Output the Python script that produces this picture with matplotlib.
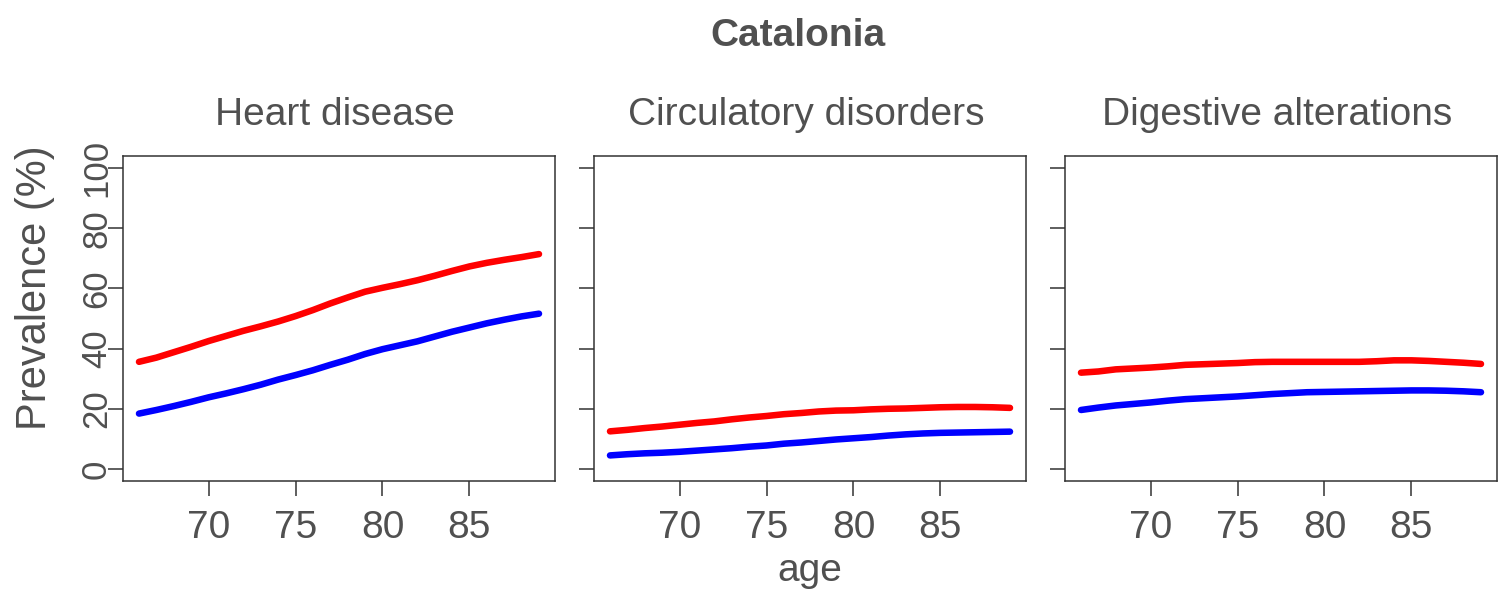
import matplotlib
matplotlib.use("Agg")
import matplotlib.pyplot as plt

ages = list(range(66, 90))

heart_red = [35.6, 37.0, 38.8, 40.6, 42.5, 44.2, 45.9, 47.4, 49.0, 50.8, 52.8, 55.0,
             57.0, 58.9, 60.2, 61.4, 62.7, 64.2, 65.8, 67.3, 68.5, 69.5, 70.4, 71.4]
heart_blue = [18.4, 19.6, 20.9, 22.3, 23.8, 25.1, 26.5, 28.0, 29.7, 31.2, 32.8, 34.6,
              36.3, 38.2, 39.8, 41.1, 42.4, 44.0, 45.6, 47.0, 48.4, 49.6, 50.7, 51.6]
circ_red = [12.5, 13.0, 13.6, 14.1, 14.7, 15.3, 15.8, 16.5, 17.1, 17.6, 18.2, 18.6,
            19.1, 19.4, 19.5, 19.8, 20.0, 20.1, 20.3, 20.5, 20.6, 20.6, 20.5, 20.3]
circ_blue = [4.5, 4.9, 5.2, 5.4, 5.7, 6.1, 6.5, 6.9, 7.4, 7.8, 8.4, 8.8,
             9.3, 9.8, 10.2, 10.6, 11.1, 11.5, 11.8, 12.0, 12.1, 12.2, 12.3, 12.4]
dig_red = [32.0, 32.4, 33.1, 33.4, 33.7, 34.1, 34.6, 34.8, 35.0, 35.2, 35.5, 35.6,
           35.6, 35.6, 35.6, 35.6, 35.6, 35.8, 36.1, 36.1, 35.9, 35.6, 35.3, 34.9]
dig_blue = [19.6, 20.4, 21.1, 21.6, 22.1, 22.7, 23.2, 23.5, 23.8, 24.1, 24.5, 24.9,
            25.2, 25.5, 25.6, 25.7, 25.8, 25.9, 26.0, 26.1, 26.1, 26.0, 25.8, 25.5]

panel_titles = ["Heart disease", "Circulatory disorders", "Digestive alterations"]
x_ticks = [70, 75, 80, 85]
y_ticks = [0, 20, 40, 60, 80, 100]

plt.rcParams['font.family'] = ['Liberation Sans', 'DejaVu Sans']
TXT = '#505050'
AXC = '#333333'
FS = 28

W, H = 1512, 591
fig = plt.figure(figsize=(W / 100, H / 100), dpi=100)

lefts = [123, 594, 1065]
width = 432
top, bottom = 156, 481

series = [(heart_red, heart_blue), (circ_red, circ_blue), (dig_red, dig_blue)]

for i, (l, (r, b)) in enumerate(zip(lefts, series)):
    ax = fig.add_axes([l / W, 1 - bottom / H, width / W, (bottom - top) / H])
    ax.plot(ages, r, color='#ff0000', lw=4.7, solid_capstyle='round')
    ax.plot(ages, b, color='#0000ff', lw=4.7, solid_capstyle='round')
    ax.set_xlim(65.08, 89.92)
    ax.set_ylim(-4, 104)
    ax.set_xticks(x_ticks)
    ax.set_xticklabels([str(t) for t in x_ticks], fontsize=FS, color=TXT)
    ax.set_yticks(y_ticks)
    if i == 0:
        ax.set_yticklabels([str(t) for t in y_ticks], fontsize=25, color=TXT,
                           rotation=90, va='center', ha='center')
    else:
        ax.set_yticklabels([])
    ax.tick_params(axis='both', length=11, width=1.1, color=AXC, direction='out')
    ax.tick_params(axis='x', pad=10)
    ax.tick_params(axis='y', pad=8)
    for s in ax.spines.values():
        s.set_color(AXC)
        s.set_linewidth(1.1)
    cx = (l + width / 2) / W
    fig.text(cx - 4 / W, 1 - 125 / H, panel_titles[i], fontsize=FS, color=TXT,
             ha='center', va='baseline')

fig.text(798 / W, 1 - 46 / H, "Catalonia", fontsize=FS, fontweight='bold',
         color=TXT, ha='center', va='baseline')
fig.text(810 / W, 1 - 581 / H, "age", fontsize=FS, color=TXT,
         ha='center', va='baseline')
fig.text(35 / W, 1 - 288 / H, "Prevalence (%)", fontsize=30, color=TXT,
         ha='center', va='center', rotation=90)

fig.savefig("out.png", dpi=100, facecolor='white')
